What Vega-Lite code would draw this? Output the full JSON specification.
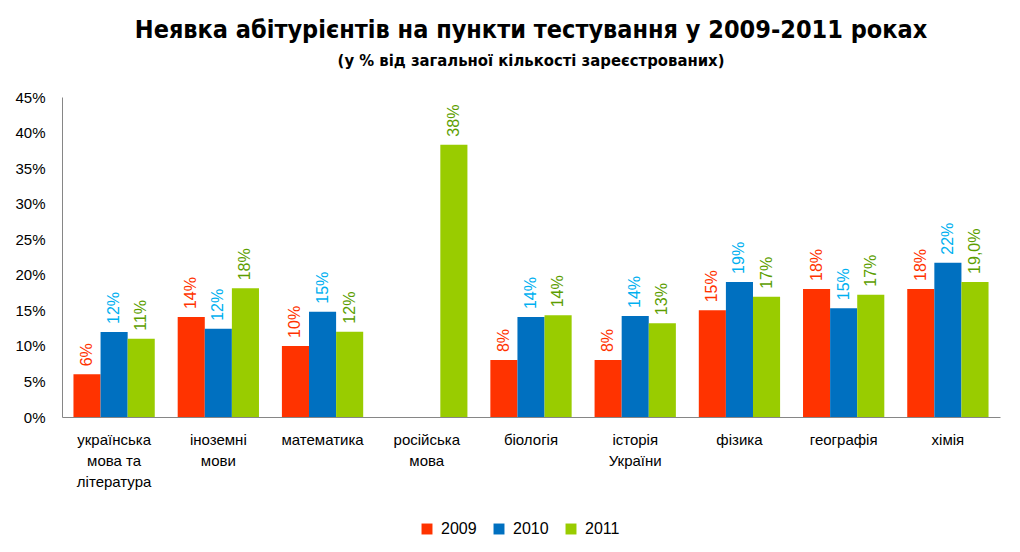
{
  "$schema": "https://vega.github.io/schema/vega-lite/v6.json",
  "width": 938,
  "height": 320,
  "autosize": {"type": "none"},
  "padding": {"left": 62, "top": 97, "right": 20, "bottom": 135},
  "background": "white",
  "title": {
    "text": "Неявка абітурієнтів на пункти тестування у 2009-2011 роках",
    "subtitle": "(у % від загальної кількості зареєстрованих)",
    "anchor": "middle",
    "font": "'DejaVu Sans Condensed', Roboto, sans-serif",
    "fontSize": 25,
    "fontWeight": "bold",
    "color": "#000000",
    "subtitleFont": "'DejaVu Sans Condensed', Roboto, sans-serif",
    "subtitleFontSize": 16.5,
    "subtitleFontWeight": "bold",
    "subtitleColor": "#000000",
    "subtitlePadding": 10,
    "offset": 21
  },
  "data": {
    "values": [
      {"subject": "українська мова та література", "year": "2009", "value": 6.0, "label": "6%"},
      {"subject": "українська мова та література", "year": "2010", "value": 11.95, "label": "12%"},
      {"subject": "українська мова та література", "year": "2011", "value": 11.0, "label": "11%"},
      {"subject": "іноземні мови", "year": "2009", "value": 14.05, "label": "14%"},
      {"subject": "іноземні мови", "year": "2010", "value": 12.4, "label": "12%"},
      {"subject": "іноземні мови", "year": "2011", "value": 18.1, "label": "18%"},
      {"subject": "математика", "year": "2009", "value": 10.0, "label": "10%"},
      {"subject": "математика", "year": "2010", "value": 14.8, "label": "15%"},
      {"subject": "математика", "year": "2011", "value": 12.0, "label": "12%"},
      {"subject": "російська мова", "year": "2011", "value": 38.3, "label": "38%"},
      {"subject": "біологія", "year": "2009", "value": 8.0, "label": "8%"},
      {"subject": "біологія", "year": "2010", "value": 14.05, "label": "14%"},
      {"subject": "біологія", "year": "2011", "value": 14.3, "label": "14%"},
      {"subject": "історія України", "year": "2009", "value": 8.0, "label": "8%"},
      {"subject": "історія України", "year": "2010", "value": 14.2, "label": "14%"},
      {"subject": "історія України", "year": "2011", "value": 13.2, "label": "13%"},
      {"subject": "фізика", "year": "2009", "value": 15.0, "label": "15%"},
      {"subject": "фізика", "year": "2010", "value": 19.0, "label": "19%"},
      {"subject": "фізика", "year": "2011", "value": 16.9, "label": "17%"},
      {"subject": "географія", "year": "2009", "value": 18.0, "label": "18%"},
      {"subject": "географія", "year": "2010", "value": 15.3, "label": "15%"},
      {"subject": "географія", "year": "2011", "value": 17.2, "label": "17%"},
      {"subject": "хімія", "year": "2009", "value": 18.0, "label": "18%"},
      {"subject": "хімія", "year": "2010", "value": 21.7, "label": "22%"},
      {"subject": "хімія", "year": "2011", "value": 19.0, "label": "19,0%"}
    ]
  },
  "encoding": {
    "x": {
      "field": "subject",
      "type": "nominal",
      "sort": null,
      "title": null,
      "scale": {"paddingInner": 0.22, "paddingOuter": 0.11},
      "axis": {
        "labelAngle": 0,
        "labelFont": "Liberation Sans",
        "labelFontSize": 15,
        "labelColor": "#000000",
        "labelPadding": 15,
        "labelLineHeight": 21,
        "ticks": false,
        "domainColor": "#868686",
        "labelExpr": "datum.value == 'українська мова та література' ? ['українська', 'мова та', 'література'] : datum.value == 'іноземні мови' ? ['іноземні', 'мови'] : datum.value == 'російська мова' ? ['російська', 'мова'] : datum.value == 'історія України' ? ['історія', 'України'] : datum.value"
      }
    },
    "xOffset": {
      "field": "year",
      "type": "nominal",
      "scale": {"domain": ["2009", "2010", "2011"], "paddingInner": 0, "paddingOuter": 0}
    },
    "y": {
      "field": "value",
      "type": "quantitative",
      "title": null,
      "scale": {"domain": [0, 45]},
      "axis": {
        "values": [0, 5, 10, 15, 20, 25, 30, 35, 40, 45],
        "labelExpr": "datum.value + '%'",
        "grid": false,
        "ticks": false,
        "labelFont": "Liberation Sans",
        "labelFontSize": 15,
        "labelColor": "#000000",
        "labelPadding": 17,
        "domainColor": "#868686"
      }
    }
  },
  "layer": [
    {
      "mark": {"type": "bar"},
      "encoding": {
        "color": {
          "field": "year",
          "type": "nominal",
          "title": null,
          "scale": {"domain": ["2009", "2010", "2011"], "range": ["#FF3300", "#0070C0", "#99CC00"]},
          "legend": {
            "orient": "none",
            "legendX": 357,
            "legendY": 424,
            "direction": "horizontal",
            "symbolType": "square",
            "symbolSize": 120,
            "symbolStrokeWidth": 0,
            "labelFont": "Liberation Sans",
            "labelFontSize": 16,
            "labelColor": "#000000",
            "columnPadding": 14,
            "labelOffset": 6
          }
        }
      }
    },
    {
      "mark": {
        "type": "text",
        "angle": 270,
        "align": "left",
        "baseline": "middle",
        "dx": 8,
        "font": "Liberation Sans",
        "fontSize": 16
      },
      "encoding": {
        "text": {"field": "label"},
        "color": {
          "field": "year",
          "type": "nominal",
          "scale": {"domain": ["2009", "2010", "2011"], "range": ["#FF3300", "#00B0F0", "#5C9E00"]},
          "legend": null
        }
      }
    }
  ],
  "resolve": {"scale": {"color": "independent"}},
  "config": {"view": {"stroke": null}}
}
